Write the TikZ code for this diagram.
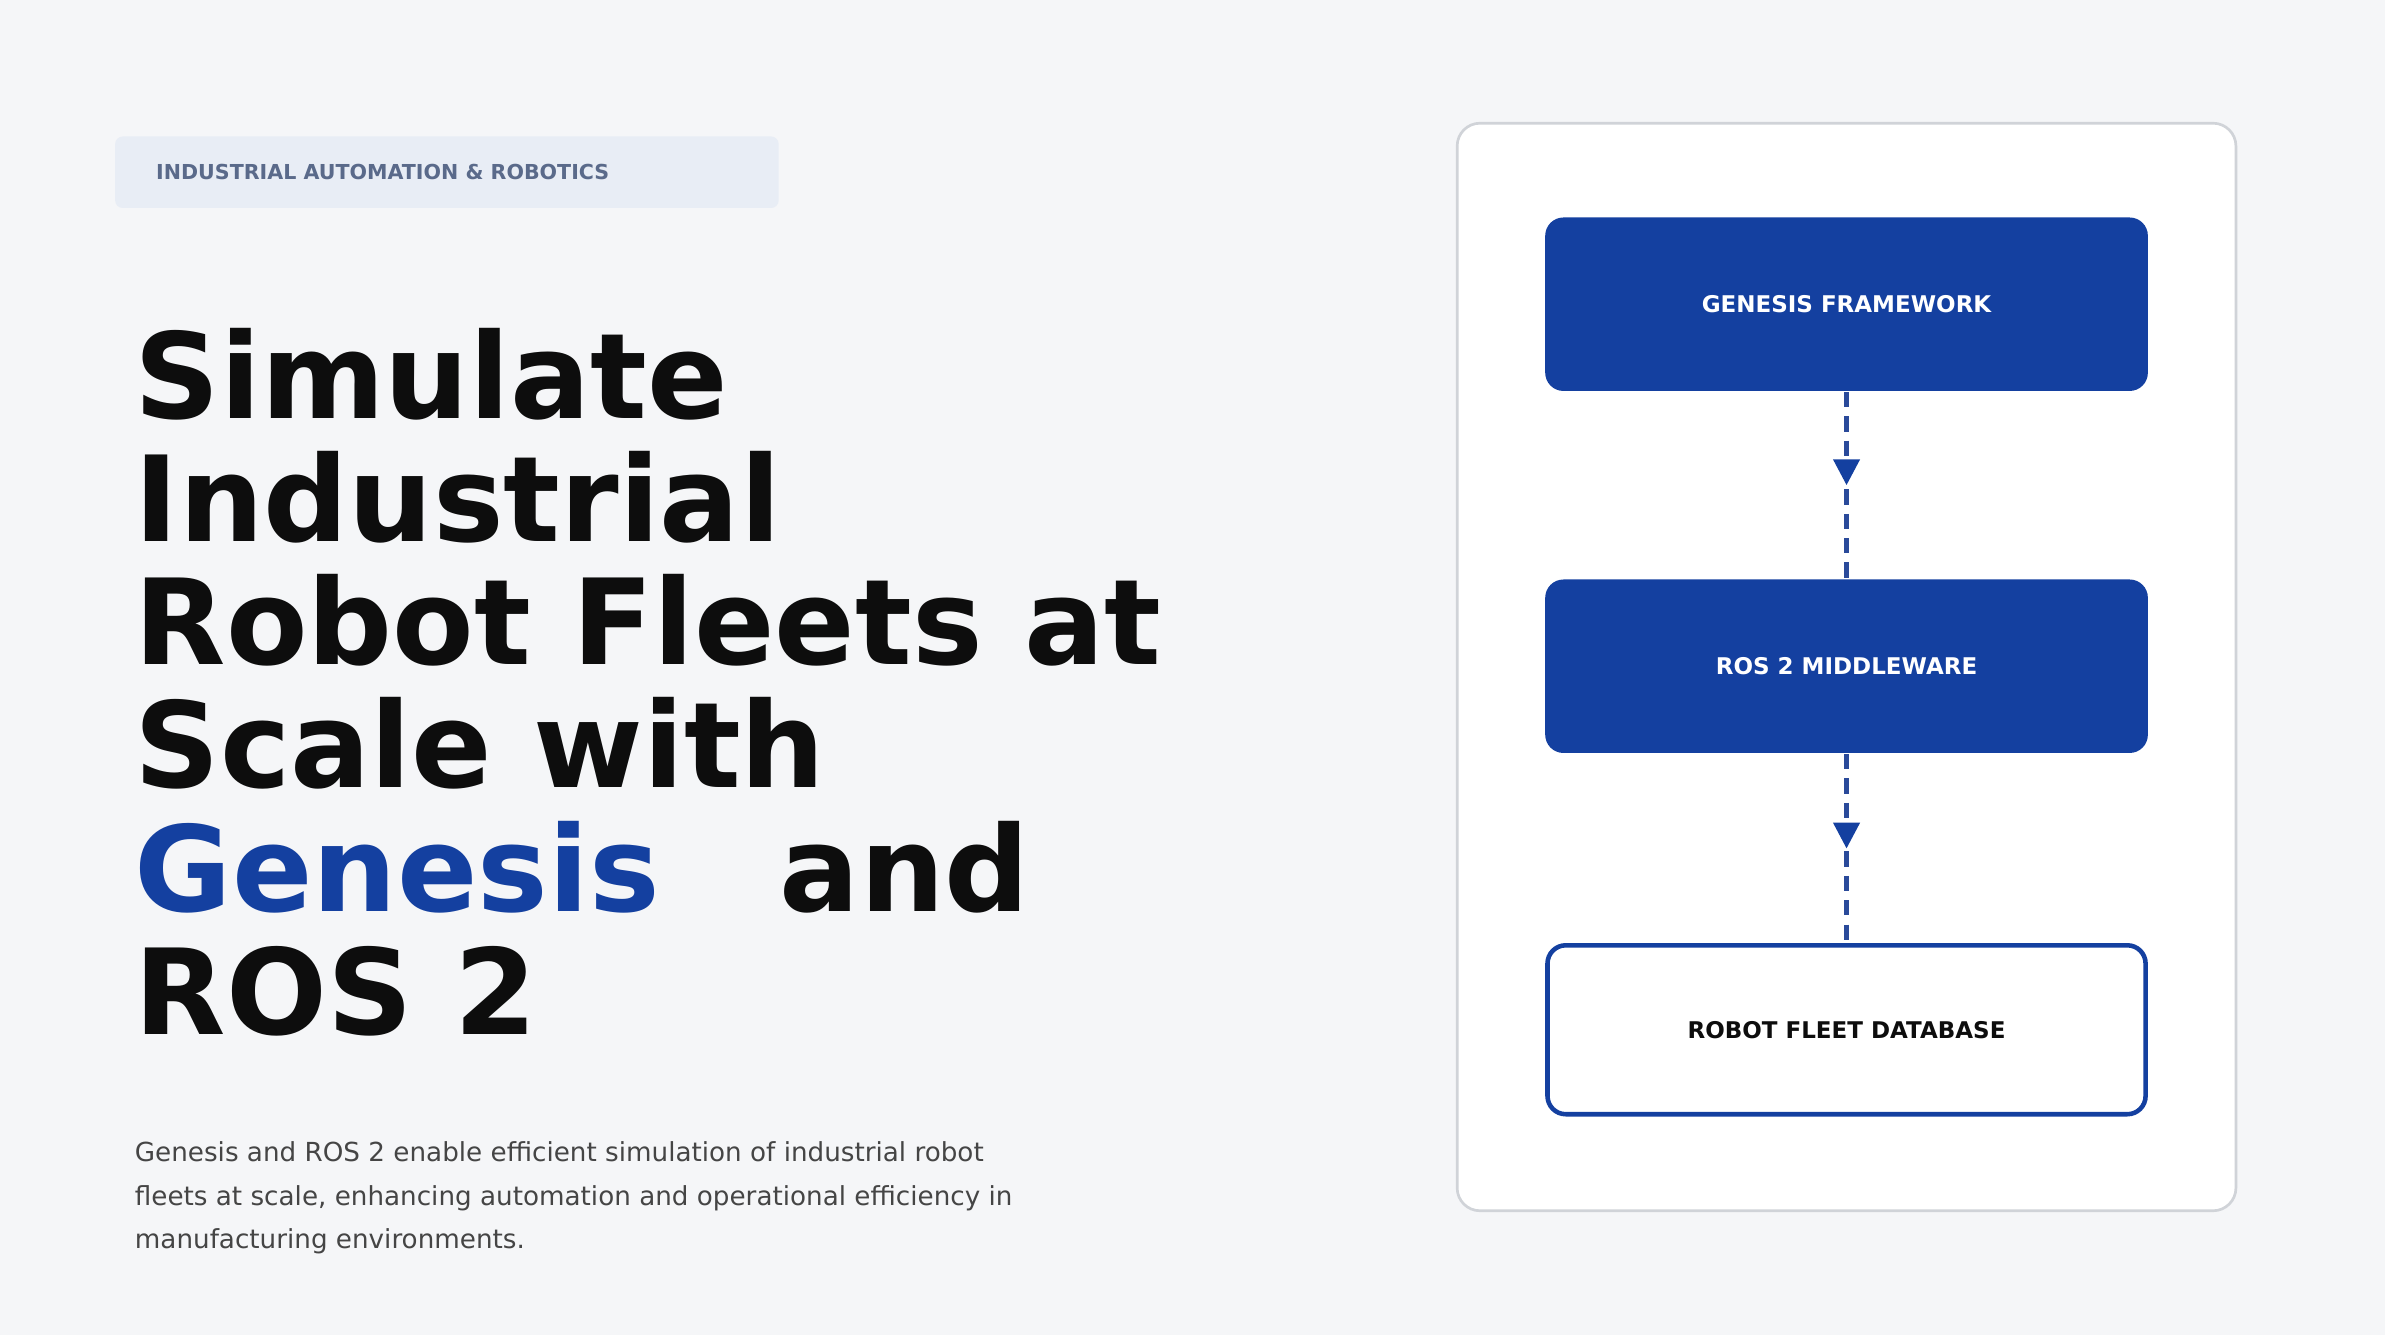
\documentclass[tikz,border=0pt]{standalone}
\usepackage{fontspec}
\setmainfont{DejaVu Sans}
\usetikzlibrary{arrows.meta,decorations.markings}
\definecolor{bg}{HTML}{F5F6F8}
\definecolor{badge}{HTML}{E8EDF5}
\definecolor{badgetxt}{HTML}{5A6A8A}
\definecolor{blue1}{HTML}{1440A0}
\definecolor{conn}{HTML}{2A4A9A}
\definecolor{panelb}{HTML}{D0D3D8}
\definecolor{para}{HTML}{454545}
\definecolor{ttl}{HTML}{0D0D0D}
\tikzset{
  title/.style={anchor=base west,inner sep=0,font=\fontsize{22.2}{23}\selectfont\bfseries,text=ttl},
  fbox/.style={rounded corners=0.12cm,minimum width=3.96cm,minimum height=1.14cm,font=\fontsize{4.3}{5}\selectfont\bfseries},
  conn/.style={draw=conn,line width=0.85pt,dash pattern=on 0.1cm off 0.06cm,
    postaction={decorate},decoration={markings,mark=at position 0.5 with {\arrow[blue1,solid]{Triangle[width=0.17cm,length=0.17cm]}}}}
}
\begin{document}
\begin{tikzpicture}[x=0.01cm,y=-0.01cm]
\fill[bg] (0,0) rectangle (1568,878);
\useasboundingbox (0,0) rectangle (1568,878);
\node[fill=badge,rounded corners=0.05cm,minimum width=4.36cm,minimum height=0.47cm,anchor=north west,inner sep=0] (badge) at (75,89) {};
\node[anchor=west,inner sep=0,text=badgetxt,font=\fontsize{3.85}{4.5}\selectfont\bfseries] (badgetext) at (102,113) {INDUSTRIAL AUTOMATION \& ROBOTICS};
\node[title] (t1) at (88,275) {Simulate};
\node[title] (t2) at (88,356) {Industrial};
\node[title] (t3) at (88,437) {Robot Fleets at};
\node[title] (t4) at (88,518) {Scale with};
\node[title,text=blue1] (t5) at (88,599) {Genesis};
\node[title] (t5b) at (512,599) {and};
\node[title] (t6) at (88,680) {ROS 2};
\node[anchor=north west,inner sep=0,text=para,align=left,font=\fontsize{4.9}{8.1}\selectfont] (para) at (88,750)
 {Genesis and ROS 2 enable efficient simulation of industrial robot\\fleets at scale, enhancing automation and operational efficiency in\\manufacturing environments.};
\draw[panelb,fill=white,line width=0.5pt,rounded corners=0.15cm] (958,81) rectangle (1470,796);
\node[fbox,fill=blue1,text=white] (b1) at (1214,200) {GENESIS FRAMEWORK};
\node[fbox,fill=blue1,text=white] (b2) at (1214,438) {ROS 2 MIDDLEWARE};
\node[fbox,fill=white,draw=blue1,line width=0.85pt,text=ttl,minimum width=3.93cm,minimum height=1.11cm] (b3) at (1214,677) {ROBOT FLEET DATABASE};
\draw[conn] (b1.south) -- (b2.north);
\draw[conn] (b2.south) -- (b3.north);
\end{tikzpicture}
\end{document}
